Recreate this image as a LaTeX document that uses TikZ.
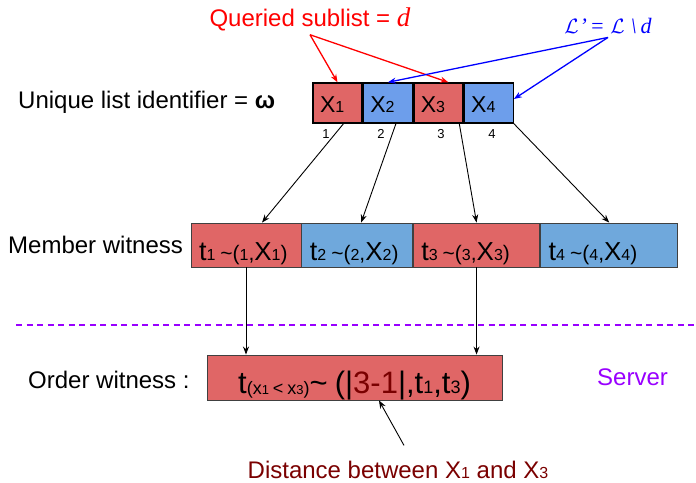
\documentclass[tikz,border=0pt]{standalone}
\usepackage{fontspec}
\setmainfont{Liberation Sans}
\newfontfamily\lserif{Liberation Serif}
\usetikzlibrary{positioning,arrows.meta}
\definecolor{cellred}{RGB}{224,102,102}
\definecolor{cellblue}{RGB}{109,158,235}
\definecolor{witblue}{RGB}{111,168,220}
\definecolor{dred}{RGB}{122,0,0}
\definecolor{srvpurple}{RGB}{153,0,255}
\definecolor{lblue}{RGB}{0,0,255}
\newcommand{\fs}[2]{{\fontsize{#1}{#1}\selectfont #2}}
\newcommand{\idtext}[1]{\fs{23}{X}\fs{16}{#1}}
\newcommand{\wittext}[1]{\fs{27}{t}\fs{16}{#1}\kern5pt\fs{21}{\textasciitilde(}\fs{16}{#1}\fs{21}{,}\fs{26}{X}\fs{16}{#1}\fs{21}{)}}

\begin{document}
\begin{tikzpicture}[x=1pt, y=-1pt, >={Stealth[length=8pt,width=6pt]},
  idcell/.style={draw, line width=1.4pt, inner xsep=7pt, inner ysep=0pt, text width=35pt, align=left, text height=29pt, text depth=11pt},
  witcell/.style={draw=black!75, line width=0.9pt, inner xsep=8pt, inner ysep=0pt, align=left, text height=37pt, text depth=7pt},
  lbltext/.style={anchor=base west, inner sep=0pt, font=\fontsize{24}{28}\selectfont},
  idx/.style={anchor=base, inner sep=0pt, font=\fontsize{13}{15}\selectfont},
  link/.style={->, line width=0.9pt},
  qarrow/.style={->, line width=1.3pt, red},
  larrow/.style={->, line width=1.3pt, lblue}]

\useasboundingbox (0,0) rectangle (696,482);

% list identifier
\node[lbltext] (uid) at (18,108) {Unique list identifier = \textbf{ω}};
\node[idcell, fill=cellred] (x1) at (337.5,103) {\idtext{1}};
\node[idcell, fill=cellblue, right=0pt of x1] (x2) {\idtext{2}};
\node[idcell, fill=cellred, right=0pt of x2] (x3) {\idtext{3}};
\node[idcell, fill=cellblue, right=0pt of x3] (x4) {\idtext{4}};
\node[idx] (i1) at (326,138) {1};
\node[idx] (i2) at (381,138) {2};
\node[idx] (i3) at (441,138) {3};
\node[idx] (i4) at (492,138) {4};

% sublist labels
\node[anchor=base, inner sep=4pt, red, font=\fontsize{24}{28}\selectfont] (qs) at (310,26) {Queried sublist = \fs{27}{\lserif\itshape d}};
\node[anchor=base, inner sep=4pt, lblue, font=\fontsize{22}{26}\lserif\itshape] (lq) at (608,33) {$\mathcal{L}$\kern1pt’\kern3pt= $\mathcal{L}$\kern6pt\textbackslash\kern4pt d};
\draw[qarrow] (qs.south) -- (x1.north);
\draw[qarrow] (qs.south) -- ([xshift=10pt]x3.north);
\draw[larrow] (lq.south) -- (x2.north);
\draw[larrow] (lq.south) -- ([yshift=4pt]x4.east);

% member witness
\node[lbltext] (mw) at (8,253) {Member witness};
\node[witcell, fill=cellred, text width=94pt] (m1) at (246,245) {\wittext{1}};
\node[witcell, fill=witblue, text width=94.5pt, right=0pt of m1] (m2) {\wittext{2}};
\node[witcell, fill=cellred, text width=110.5pt, right=0pt of m2] (m3) {\wittext{3}};
\node[witcell, fill=witblue, text width=121pt, right=0pt of m3] (m4) {\wittext{4}};
\draw[link] ([xshift=6pt]x1.south) -- ([xshift=16pt]m1.north);
\draw[link] ([xshift=8pt]x2.south) -- ([xshift=4pt]m2.north);
\draw[link] ([xshift=21pt]x3.south) -- (m3.north);
\draw[link] (x4.south east) -- (m4.north);

% server side
\draw[srvpurple, line width=1.4pt, dash pattern=on 6pt off 4.5pt] (16,325) -- (696,325);
\node[lbltext, srvpurple] (srv) at (597,385) {Server};

% order witness
\node[lbltext] (ow) at (28,388) {Order witness :};
\node[witcell, fill=cellred, text width=279pt, align=center, text height=38pt] (ord) at (354.5,377.5)
  {\fs{31}{t}\raisebox{-1pt}{\fs{18}{(x\fs{13}{1}\kern4pt<\kern4pt x\fs{13}{3})}}\fs{31}{\textasciitilde\kern7pt(|\textcolor{dred}{3-1}|,t}\fs{18}{1}\fs{31}{,t}\fs{18}{3}\fs{31}{)}};
\draw[link] (m1.south) -- (m1.south |- ord.north);
\draw[link] (m3.south) -- (m3.south |- ord.north);

\node[anchor=base, inner sep=4pt, dred, font=\fontsize{24}{28}\selectfont] (dist) at (398,478) {Distance between X\fs{16}{1} and X\fs{16}{3}};
\draw[link] ([xshift=6pt,yshift=11pt]dist.north) -- ([xshift=24.5pt]ord.south);
\end{tikzpicture}
\end{document}
